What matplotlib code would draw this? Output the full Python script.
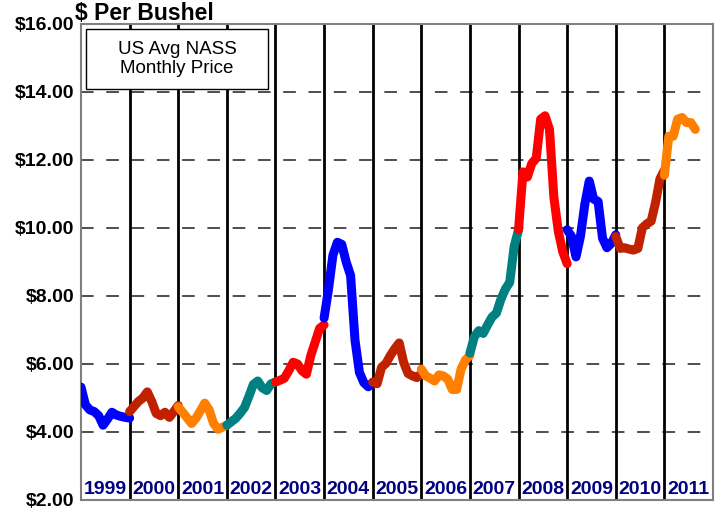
import matplotlib
matplotlib.use("Agg")
import matplotlib.pyplot as plt
from matplotlib.patches import Rectangle

plt.rcParams['font.family'] = ['Liberation Sans', 'DejaVu Sans']

years = [1999, 2000, 2001, 2002, 2003, 2004, 2005, 2006, 2007, 2008, 2009, 2010, 2011]
colors = ['#0000FF', '#C02200', '#FF8000', '#008080', '#FF0000',
          '#0000FF', '#C02200', '#FF8000', '#008080', '#FF0000',
          '#0000FF', '#C02200', '#FF8000']

p1999 = [5.32, 4.80, 4.65, 4.60, 4.48, 4.20, 4.38, 4.58, 4.50, 4.46, 4.43, 4.41]
p2000 = [4.60, 4.75, 4.90, 5.00, 5.18, 4.90, 4.55, 4.48, 4.58, 4.43, 4.60, 4.78]
p2001 = [4.74, 4.58, 4.42, 4.25, 4.40, 4.62, 4.85, 4.65, 4.25, 4.08, 4.14, 4.20]
p2002 = [4.20, 4.30, 4.40, 4.55, 4.72, 5.05, 5.40, 5.50, 5.30, 5.22, 5.42, 5.47]
p2003 = [5.47, 5.52, 5.58, 5.80, 6.05, 6.00, 5.80, 5.70, 6.25, 6.65, 7.05, 7.15]
p2004 = [7.35, 8.20, 9.20, 9.58, 9.52, 9.00, 8.60, 6.70, 5.75, 5.45, 5.33, 5.45]
p2005 = [5.47, 5.42, 5.90, 6.02, 6.25, 6.45, 6.62, 6.05, 5.72, 5.65, 5.60, 5.72]
p2006 = [5.85, 5.65, 5.58, 5.50, 5.68, 5.65, 5.55, 5.25, 5.25, 5.85, 6.12, 6.25]
p2007 = [6.32, 6.80, 6.98, 6.90, 7.15, 7.38, 7.50, 7.90, 8.20, 8.40, 9.45, 9.95]
p2008 = [9.95, 11.65, 11.50, 11.90, 12.05, 13.20, 13.30, 12.90, 10.90, 9.90, 9.30, 8.95]
p2009 = [9.95, 9.75, 9.15, 9.75, 10.70, 11.38, 10.85, 10.78, 9.70, 9.42, 9.55, 9.80]
p2010 = [9.75, 9.40, 9.42, 9.38, 9.35, 9.40, 10.00, 10.12, 10.20, 10.75, 11.45, 11.70]
p2011 = [11.55, 12.70, 12.70, 13.20, 13.25, 13.10, 13.10, 12.90]

series = [p1999, p2000, p2001, p2002, p2003, p2004, p2005, p2006,
          p2007, p2008, p2009, p2010, p2011]

yticks = [2, 4, 6, 8, 10, 12, 14, 16]

fig = plt.figure(figsize=(7.23, 5.13), dpi=100)
ax = fig.add_axes([81/723, 13/513, 632/723, 476/513])
ax.set_xlim(0, 13)
ax.set_ylim(2, 16)

for y in yticks[1:-1]:
    ax.axhline(y, color='#404040', lw=1.3, ls=(0, (7, 7)), zorder=1)
for i in range(1, 13):
    ax.axvline(i, color='black', lw=2, zorder=2)

for i, (vals, c) in enumerate(zip(series, colors)):
    xs = [i + m / 11 for m in range(len(vals))]
    ax.plot(xs, vals, color=c, lw=6.5, solid_capstyle='round',
            solid_joinstyle='round', zorder=3)

for i, yr in enumerate(years):
    ax.text(i + 0.5, 2.3, str(yr), ha='center', va='center', color='#000080',
            fontsize=14, fontweight='bold', zorder=4)

ax.set_xticks([])
ax.set_yticks(yticks)
ax.set_yticklabels([f"${v:.2f}" for v in yticks], fontsize=14, fontweight='bold')
ax.tick_params(axis='y', length=0, pad=5)
for s in ax.spines.values():
    s.set_color('#808080')
    s.set_linewidth(1.5)

# legend-like box
box_x0, box_x1 = (86 - 81) / 632, (268 - 81) / 632
box_y0, box_y1 = (500 - 89) / 476, (500 - 29) / 476
ax.add_patch(Rectangle((box_x0, box_y0), box_x1 - box_x0, box_y1 - box_y0,
                       transform=ax.transAxes, facecolor='white',
                       edgecolor='black', lw=1, zorder=5))
ax.text((box_x0 + box_x1) / 2, (box_y0 + box_y1) / 2, "US Avg NASS\nMonthly Price",
        transform=ax.transAxes, ha='center', va='center', fontsize=13.5,
        zorder=6, linespacing=1.2)

fig.text(75/723, 1 - 13/513, "$ Per Bushel", ha='left', va='center',
         fontsize=16.5, fontweight='bold')

fig.savefig("out.png", dpi=100)
